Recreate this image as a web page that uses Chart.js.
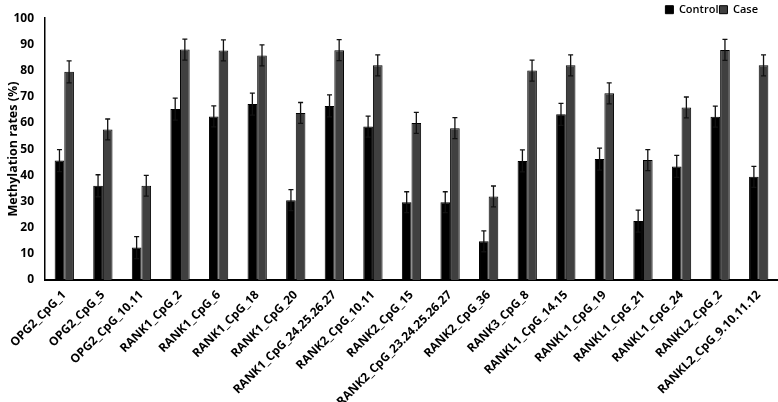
<!DOCTYPE html>
<html lang="en">
<head>
    <meta charset="UTF-8">
    <title>Methylation rates</title>
    <script src="https://cdn.jsdelivr.net/npm/chart.js"></script>
    <style>
    body { margin: 0; background: #fff; }
    #wrap { width: 778px; height: 402px; }
</style>
</head>
<body>
    <div id="wrap"><canvas id="methChart"></canvas></div>
    <script>
        // CpG sites
        const sites = ['OPG2_CpG_1', 'OPG2_CpG_5', 'OPG2_CpG_10.11', 'RANK1_CpG_2', 'RANK1_CpG_6',
            'RANK1_CpG_18', 'RANK1_CpG_20', 'RANK1_CpG_24.25.26.27', 'RANK2_CpG_10.11', 'RANK2_CpG_15',
            'RANK2_CpG_23.24.25.26.27', 'RANK2_CpG_36', 'RANK3_CpG_8', 'RANKL1_CpG_14.15', 'RANKL1_CpG_19',
            'RANKL1_CpG_21', 'RANKL1_CpG_24', 'RANKL2_CpG_2', 'RANKL2_CpG_9.10.11.12'];

        const control = [45.6, 36, 12.4, 65.3, 62.5, 67.2, 30.5, 66.5, 58.6, 29.7, 29.7, 14.8, 45.5, 63.3, 46.2, 22.5, 43.4, 62.4, 39.4];
        const caseVals = [79.5, 57.5, 36, 88, 87.7, 85.8, 63.8, 87.8, 82, 60, 58, 31.9, 80, 82, 71.3, 45.8, 65.9, 87.9, 82];

        // error bar sizes (+/-)
        const controlErr = [4.2, 4.2, 4.2, 4.2, 4.0, 4.2, 4.0, 4.2, 4.0, 4.0, 4.0, 4.0, 4.2, 4.2, 4.2, 4.2, 4.2, 4.0, 4.0];
        const caseErr = [4.2, 4.0, 4.0, 4.0, 4.0, 4.0, 4.0, 4.0, 4.0, 4.0, 4.0, 4.0, 4.0, 4.0, 4.0, 4.0, 4.0, 4.0, 4.0];

        const yTicks = [0, 10, 20, 30, 40, 50, 60, 70, 80, 90, 100];

        // 에러바 그리기 플러그인
        const errorBars = {
            id: 'errorBars',
            afterDatasetsDraw(chart) {
                const ctx = chart.ctx;
                const y = chart.scales.y;
                chart.data.datasets.forEach((ds, i) => {
                    const meta = chart.getDatasetMeta(i);
                    meta.data.forEach((bar, j) => {
                        const v = ds.data[j];
                        const e = ds.errors[j];
                        const top = y.getPixelForValue(v + e);
                        const bot = y.getPixelForValue(v - e);
                        ctx.save();
                        ctx.strokeStyle = '#111';
                        ctx.lineWidth = 1.3;
                        ctx.beginPath();
                        ctx.moveTo(bar.x, top);
                        ctx.lineTo(bar.x, bot);
                        ctx.moveTo(bar.x - 2.5, top);
                        ctx.lineTo(bar.x + 2.5, top);
                        ctx.moveTo(bar.x - 2.5, bot);
                        ctx.lineTo(bar.x + 2.5, bot);
                        ctx.stroke();
                        ctx.restore();
                    });
                });
            }
        };

        // 범례를 오른쪽 끝에서 조금 안쪽으로
        const legendShift = {
            id: 'legendShift',
            afterLayout(chart) {
                const lg = chart.legend;
                lg.right -= 19;
                lg.width -= 19;
            }
        };

        const ctx = document.getElementById('methChart').getContext('2d');
        new Chart(ctx, {
            type: 'bar',
            data: {
                labels: sites,
                datasets: [{
                    label: 'Control',
                    data: control,
                    errors: controlErr,
                    backgroundColor: '#000000',
                    borderColor: '#000000',
                    borderWidth: 1
                }, {
                    label: 'Case',
                    data: caseVals,
                    errors: caseErr,
                    backgroundColor: '#404040',
                    borderColor: '#000000',
                    borderWidth: 1
                }]
            },
            options: {
                responsive: true,
                maintainAspectRatio: false,
                animation: false,
                layout: { padding: { left: 0, right: 0, top: 0, bottom: 0 } },
                datasets: {
                    bar: { categoryPercentage: 0.5, barPercentage: 1.0 }
                },
                plugins: {
                    legend: {
                        position: 'top',
                        align: 'end',
                        maxHeight: 15,
                        labels: {
                            boxWidth: 8,
                            boxHeight: 8,
                            padding: 1,
                            color: '#000',
                            font: { family: 'Open Sans', size: 11, weight: '600' }
                        }
                    },
                    tooltip: { enabled: false }
                },
                scales: {
                    x: {
                        grid: { display: false, drawTicks: false },
                        border: { color: '#000', width: 2 },
                        // 긴 라벨은 아래로 잘려도 됨 (원본처럼)
                        afterFit: axis => {
                            axis.height = 122;
                            axis.paddingLeft = 0;
                            axis.paddingRight = 0;
                        },
                        ticks: {
                            minRotation: 45,
                            maxRotation: 45,
                            color: '#000',
                            padding: 8,
                            font: { family: 'Open Sans', size: 12, weight: 'bold' }
                        }
                    },
                    y: {
                        min: 0,
                        max: 100,
                        afterBuildTicks: axis => { axis.ticks = yTicks.map(v => ({ value: v })); },
                        afterFit: axis => { axis.width = 45; },
                        grid: { display: false, drawTicks: false },
                        border: { color: '#000', width: 1.5 },
                        ticks: {
                            color: '#000',
                            padding: 11,
                            font: { family: 'Open Sans', size: 12, weight: 'bold' }
                        },
                        title: {
                            display: true,
                            text: 'Methylation rates (%)',
                            color: '#000',
                            padding: { top: 6, bottom: 0 },
                            font: { family: 'Open Sans', size: 12.5, weight: 'bold' }
                        }
                    }
                }
            },
            plugins: [errorBars, legendShift]
        });
    </script>
</body>
</html>
